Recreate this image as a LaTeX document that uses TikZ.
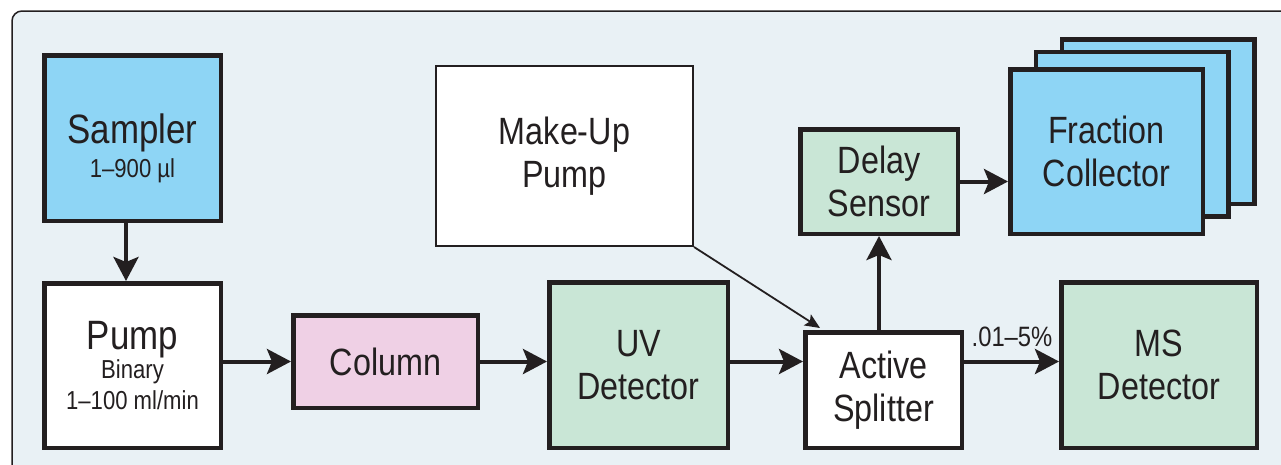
\documentclass[tikz,border=0pt]{standalone}
\usepackage{fontspec}
\setmainfont{Liberation Sans}[FakeStretch=0.85]
\usetikzlibrary{arrows.meta,calc}
\definecolor{panel}{HTML}{E9F1F5}
\definecolor{edge}{HTML}{231F20}
\definecolor{blu}{HTML}{8ED5F5}
\definecolor{grn}{HTML}{C9E6D6}
\definecolor{pnk}{HTML}{EFD0E5}
\newcommand{\smallsz}{\fontsize{26}{27}\selectfont}
\newcommand{\bigsz}{\fontsize{41}{43}\selectfont}
\tikzset{
  box/.style={draw=edge, line width=4.5pt, rectangle, inner sep=0pt, align=center,
    text=edge, font=\fontsize{38}{43}\selectfont},
  flow/.style={draw=edge, line width=4pt, -{Stealth[length=24pt,width=25pt,inset=5pt]}},
  thinflow/.style={draw=edge, line width=1.8pt, -{Stealth[length=15pt,width=13pt,inset=3pt]}},
}
\begin{document}
\begin{tikzpicture}[x=1pt,y=-1pt]
\useasboundingbox (0,0) rectangle (1281,464);
\clip (0,0) rectangle (1281,464);
\fill[white] (0,0) rectangle (1281,464);
\draw[draw=edge, fill=panel, line width=1.5pt, rounded corners=10pt] (12,11) rectangle (1310,490);

\node[box, fill=blu, minimum width=176.5pt, minimum height=165.5pt] (sampler) at (132.5,138)
  {\bigsz\rule{0pt}{50pt}Sampler\\[-9pt]\smallsz 1–900 µl};
\node[box, fill=white, minimum width=176.5pt, minimum height=164.5pt] (pump) at (132.5,365.5)
  {\bigsz Pump\\[-14pt]\smallsz Binary\\[-12pt]\smallsz 1–100 ml/min};
\node[box, fill=pnk, minimum width=184.5pt, minimum height=92.5pt] (column) at (385.5,361.5) {Column};
\node[box, fill=grn, minimum width=178.5pt, minimum height=165.5pt] (uv) at (638.5,365) {UV\\Detector};
\node[box, fill=white, line width=2pt, minimum width=257pt, minimum height=180pt] (makeup) at (564.5,156) {Make-Up\\Pump};
\node[box, fill=grn, minimum width=157.5pt, minimum height=104.5pt] (delay) at (879,181.5) {Delay\\Sensor};
\node[box, fill=blu, minimum width=192.5pt, minimum height=164.5pt] (fracC) at (1158,121.5) {};
\node[box, fill=blu, minimum width=192.5pt, minimum height=164.5pt] (fracB) at (1132,134) {};
\node[box, fill=blu, minimum width=192.5pt, minimum height=164.5pt] (frac) at (1106.5,151.5) {Fraction\\Collector};
\node[box, fill=white, minimum width=156.5pt, minimum height=115.5pt] (splitter) at (883.5,390) {Active\\Splitter};
\node[box, fill=grn, minimum width=195.5pt, minimum height=165.5pt] (ms) at (1159,365) {MS\\Detector};

\draw[flow] ([xshift=-6.5pt]sampler.south) -- ([xshift=-6.5pt]pump.north);
\draw[flow] (pump.east |- column.west) -- (column.west);
\draw[flow] (column.east) -- (uv.west |- column.east);
\draw[flow] (uv.east |- column.east) -- (splitter.west |- column.east);
\draw[flow] (splitter.east |- column.east) -- (ms.west |- column.east);
\draw[flow] (splitter.north -| delay.south) -- (delay.south);
\draw[flow] (delay.east) -- (frac.west |- delay.east);
\coordinate (mkend) at ($(splitter.north west)+(17,-2)$);
\draw[thinflow] (makeup.south east) -- (mkend);

\node[text=edge, font=\fontsize{28}{30}\selectfont, inner sep=0pt, anchor=base] (pct) at (1012,346) {.01–5\%};
\end{tikzpicture}
\end{document}
